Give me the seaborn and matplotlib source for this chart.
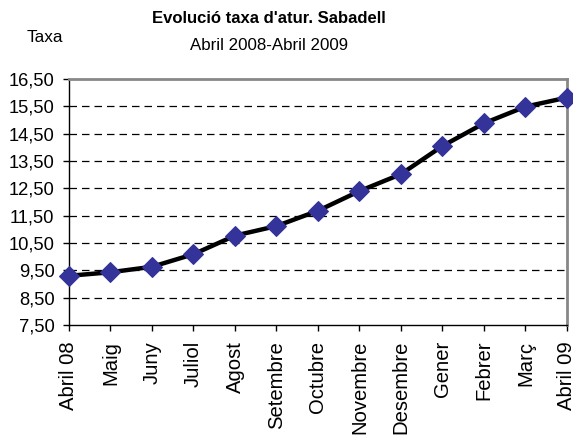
import seaborn as sns
import pandas as pd
import matplotlib.pyplot as plt

months = ['Abril 08', 'Maig', 'Juny', 'Juliol', 'Agost', 'Setembre', 'Octubre',
          'Novembre', 'Desembre', 'Gener', 'Febrer', 'Març', 'Abril 09']
taxa = [9.30, 9.43, 9.63, 10.09, 10.77, 11.12, 11.68, 12.40, 13.02, 14.05, 14.88, 15.49, 15.82]
yticks = [7.5, 8.5, 9.5, 10.5, 11.5, 12.5, 13.5, 14.5, 15.5, 16.5]

sns.set_style('white')
plt.rcParams['font.family'] = ['Liberation Sans', 'DejaVu Sans']
plt.rcParams['text.color'] = 'black'
plt.rcParams['xtick.color'] = 'black'
plt.rcParams['ytick.color'] = 'black'
plt.rcParams['xtick.labelcolor'] = 'black'
plt.rcParams['ytick.labelcolor'] = 'black'

df = pd.DataFrame({'pos': range(len(months)), 'taxa': taxa})

fig = plt.figure(figsize=(5.73, 4.37), dpi=100)
ax = fig.add_axes([0.1204, 0.2563, 0.8691, 0.5629])

# dashed gridlines
for v in yticks[1:-1]:
    ax.axhline(v, color='black', lw=0.9, ls=(0, (6, 4)), zorder=0)

sns.lineplot(data=df, x='pos', y='taxa', ax=ax, color='black', lw=3.2,
             marker='D', markersize=10, markerfacecolor='#333399',
             markeredgecolor='#333399', clip_on=False, zorder=3)

ax.set_xlim(0, len(months) - 1)
ax.set_ylim(7.5, 16.5)
ax.set_yticks(yticks)
ax.set_yticklabels([f'{v:.2f}'.replace('.', ',') for v in yticks], fontsize=13.2)
ax.set_xticks(range(len(months)))
ax.set_xticklabels(months, rotation=90, fontsize=14.6)
ax.set_xlabel('')
ax.set_ylabel('')
ax.tick_params(axis='both', direction='out', length=4.5, width=1, color='black')
ax.tick_params(axis='y', pad=6)
ax.tick_params(axis='x', pad=7)
ax.tick_params(bottom=True, left=True)

for s in ['left', 'bottom']:
    ax.spines[s].set_color('black')
    ax.spines[s].set_linewidth(1)
for s in ['top', 'right']:
    ax.spines[s].set_color('#888888')
    ax.spines[s].set_linewidth(2)

fig.text(0.469, 0.958, "Evolució taxa d'atur. Sabadell", ha='center', va='center',
         fontsize=12, fontweight='bold')
fig.text(0.469, 0.897, 'Abril 2008-Abril 2009', ha='center', va='center', fontsize=12.2)
fig.text(0.0785, 0.915, 'Taxa', ha='center', va='center', fontsize=12.4)

fig.savefig('out.png', dpi=100)
